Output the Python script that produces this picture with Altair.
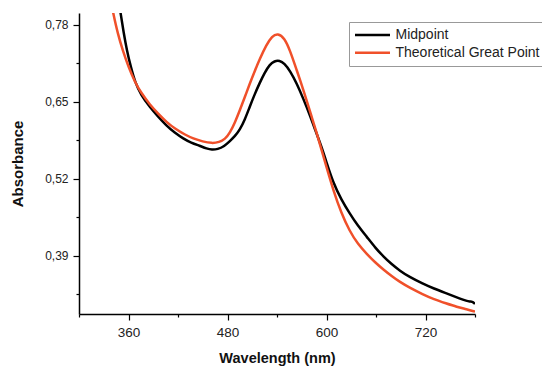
import altair as alt
import pandas as pd

# Midpoint series (wavelength nm, absorbance)
mid_wl = [348, 350.5, 354, 358, 363, 368, 375, 386, 396, 406, 416, 426.5, 436, 446, 455, 461,
          468, 476, 483, 489, 495, 501, 507, 513, 519, 525, 531, 537, 543, 549, 556, 564, 572,
          580, 586, 594, 600, 608, 618, 628, 638, 649, 659, 669, 679, 689, 700, 717, 730, 745,
          758, 766, 770, 775, 778, 780]
mid_abs = [0.822, 0.799, 0.768, 0.737, 0.708, 0.683, 0.662, 0.641, 0.625, 0.610, 0.598, 0.588,
           0.581, 0.576, 0.571, 0.569, 0.570, 0.575, 0.584, 0.592, 0.603, 0.620, 0.642, 0.663,
           0.682, 0.699, 0.713, 0.719, 0.720, 0.715, 0.702, 0.681, 0.655, 0.627, 0.604, 0.574,
           0.548, 0.514, 0.485, 0.462, 0.441, 0.422, 0.404, 0.389, 0.376, 0.365, 0.355, 0.343,
           0.335, 0.327, 0.320, 0.316, 0.314, 0.313, 0.312, 0.309]

# Theoretical Great Point series
tgp_wl = [338, 341.6, 347, 353, 360, 368, 375, 386, 396, 406, 417, 428, 438.5, 450, 461, 470,
          477, 483, 489, 495, 501, 507, 513, 519, 527, 534, 541, 549, 556, 563, 568, 576, 582,
          588, 594, 600, 608, 618, 628, 638, 649, 659, 669, 679, 689, 700, 717, 730, 745, 758,
          770, 780]
tgp_abs = [0.824, 0.799, 0.765, 0.737, 0.709, 0.683, 0.666, 0.645, 0.630, 0.616, 0.604, 0.595,
           0.588, 0.583, 0.580, 0.582, 0.587, 0.598, 0.615, 0.636, 0.658, 0.681, 0.702, 0.722,
           0.746, 0.761, 0.766, 0.758, 0.736, 0.707, 0.687, 0.652, 0.625, 0.598, 0.569, 0.540,
           0.502, 0.462, 0.432, 0.410, 0.393, 0.379, 0.367, 0.356, 0.346, 0.337, 0.325, 0.317,
           0.310, 0.304, 0.300, 0.296]

series_names = ["Midpoint", "Theoretical Great Point"]
series_colors = ["#000000", "#F0502A"]

x_ticks = [300, 360, 420, 480, 540, 600, 660, 720, 780]
y_ticks = [0.325, 0.39, 0.455, 0.52, 0.585, 0.65, 0.715, 0.78]

df = pd.concat([
    pd.DataFrame({"wl": mid_wl, "abs": mid_abs, "series": series_names[0], "order": range(len(mid_wl))}),
    pd.DataFrame({"wl": tgp_wl, "abs": tgp_abs, "series": series_names[1], "order": range(len(tgp_wl))}),
])

FONT = "Liberation Sans"

chart = alt.Chart(df).mark_line(strokeWidth=2.5, interpolate="basis", clip=True).encode(
    x=alt.X("wl:Q", scale=alt.Scale(domain=[300, 780], nice=False, zero=False),
            axis=alt.Axis(values=x_ticks, title="Wavelength (nm)",
                          labelExpr="datum.value % 120 == 0 ? datum.label : ''",
                          tickSize={"condition": {"test": "datum.value % 120 == 0", "value": 6}, "value": 3},
                          labelPadding=5, titlePadding=13, labelFontSize=13.5, titleFontSize=14.5)),
    y=alt.Y("abs:Q", scale=alt.Scale(domain=[0.292, 0.80], nice=False, zero=False),
            axis=alt.Axis(values=y_ticks, title="Absorbance",
                          labelExpr="round(datum.value*1000) % 130 == 0 ? replace(format(datum.value, '.2f'), '.', ',') : ''",
                          tickSize={"condition": {"test": "round(datum.value*1000) % 130 == 0", "value": 6}, "value": 3},
                          labelPadding=5, titlePadding=19, labelFontSize=12, titleFontSize=15)),
    color=alt.Color("series:N", scale=alt.Scale(domain=series_names, range=series_colors),
                    legend=alt.Legend(title=None, orient="none", legendX=270, legendY=9,
                                      symbolType="M-5,0H5", symbolSize=49, symbolStrokeWidth=2.5,
                                      symbolOffset=10.5,
                                      labelFontSize=14, labelFont=FONT, labelColor="#222222",
                                      labelOffset=16, padding=6, rowPadding=3.7,
                                      strokeColor="#999999", fillColor="white")),
    order="order:Q",
).properties(
    width=396, height=301,
    autosize=alt.AutoSizeParams(type="none"),
    padding={"left": 71, "top": 5, "right": 67, "bottom": 52},
).configure_view(stroke=None).configure_axis(
    grid=False, domainColor="black", domainWidth=1.5, tickColor="black", tickWidth=1.2,
    labelFont=FONT, labelColor="#222222",
    titleFont=FONT, titleFontWeight="bold", titleColor="#111111",
)

chart.save("out.html", embed_options={"renderer": "svg", "actions": False})
